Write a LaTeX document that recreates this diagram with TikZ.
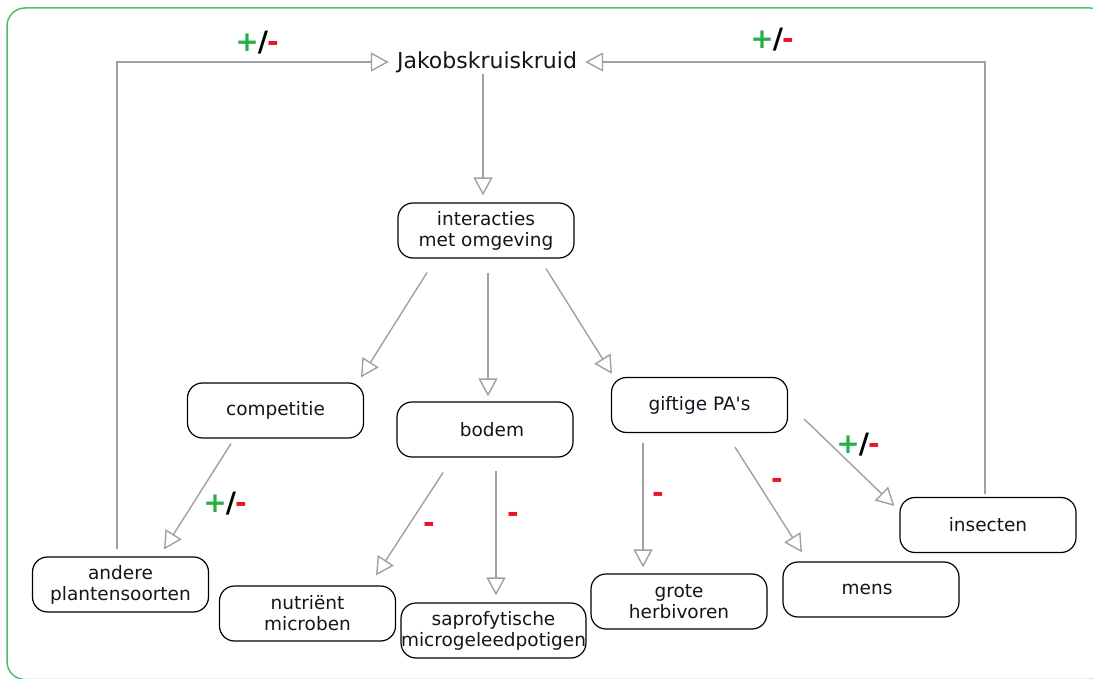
\documentclass[tikz,border=0pt]{standalone}
\usepackage{fontspec}
\setmainfont{DejaVu Sans}
\usetikzlibrary{arrows.meta,calc}

\definecolor{framegreen}{RGB}{85,190,105}
\definecolor{linkgray}{RGB}{160,160,160}
\definecolor{plusgreen}{RGB}{40,175,70}
\definecolor{minusred}{RGB}{232,20,40}
\definecolor{inkdark}{RGB}{20,20,30}

% green plus, black slash, red minus
\newcommand\signpm{{\color{plusgreen}+}\kern-1pt/\kern-1pt{\color{minusred}-}}

\begin{document}
\begin{tikzpicture}[x=1pt,y=-1pt,
  box/.style={draw=black, line width=1.2pt, rounded corners=15pt,
    minimum width=176pt, minimum height=55pt, inner sep=0pt,
    align=center, text=inkdark, font=\fontsize{18.5}{21}\selectfont},
  link/.style={draw=linkgray, line width=1.4pt,
    -{Triangle[open, length=18pt, width=19pt]}},
  sign/.style={font=\bfseries\fontsize{28}{28}\selectfont, inner sep=0pt},
  minus/.style={sign, text=minusred},
]
\useasboundingbox (0,0) rectangle (1093,679);

% outer frame
\draw[framegreen, line width=1.5pt, rounded corners=18pt] (7,8) rectangle (1108,679.5);

% title plant
\node[inner xsep=8pt, inner ysep=0pt, text=inkdark,
      font=\fontsize{22}{22}\selectfont] (jak) at (487,62) {Jakobskruiskruid};

% boxes
\node[box] (inter)  at (486,230.5)   {interacties\\met omgeving};
\node[box] (comp)   at (275.5,410.5) {competitie};
\node[box] (bodem)  at (485,429.5)   {\hspace*{14pt}bodem};
\node[box] (gift)   at (699.5,405)   {giftige PA\textquotesingle s};
\node[box] (insect) at (988,525)     {insecten};
\node[box] (andere) at (120.5,584.5) {andere\\plantensoorten};
\node[box] (nutr)   at (307.5,613.5) {nutriënt\\microben};
\node[box, minimum width=183pt] (sapro) at (493.5,630.5) {saprofytische\\microgeleedpotigen};
\node[box] (grote)  at (679,601.5)   {grote\\herbivoren};
\node[box] (mens)   at (871,589.5)   {\hspace*{-8pt}mens};

% feedback loops to the plant
\draw[link] ($(andere.north)+(-3.5,-7)$) |- (jak.west);
\draw[link] ($(insect.north)+(-3,-3)$) |- (jak.east);

% downward links
\draw[link] ($(jak.center)+(-4,12)$) -- ($(inter.north)+(-3,-7)$);
\draw[link] ($(inter.south)+(-59,14)$) -- ($(comp.north)+(85.5,-5)$);
\draw[link] ($(inter.south)+(2,14)$) -- ($(bodem.north)+(3,-5)$);
\draw[link] ($(inter.south)+(60,10)$) -- ($(gift.north)+(-87.5,-3)$);
\draw[link] ($(comp.south)+(-44.5,5)$) -- ($(andere.north)+(43.5,-7)$);
\draw[link] ($(bodem.south)+(-42,15)$) -- ($(nutr.north)+(68.5,-10)$);
\draw[link] ($(bodem.south)+(11,13)$) -- ($(sapro.north)+(2.5,-7)$);
\draw[link] ($(gift.south)+(-56.5,10)$) -- ($(grote.north)+(-36,-6)$);
\draw[link] ($(gift.south)+(35.5,14)$) -- ($(mens.north)+(-69,-9)$);
\draw[link] ($(gift.east)+(16,14)$) -- ($(insect.west)+(-5,-19)$);

% effect signs
\node[sign] (s1) at (257,43) {\signpm};
\node[sign] (s2) at (772,40) {\signpm};
\node[sign] (s3) at (225,504) {\signpm};
\node[sign] (s4) at (858,445) {\signpm};
\node[minus] (m1) at (429,527) {-};
\node[minus] (m2) at (513,517) {-};
\node[minus] (m3) at (658,497) {-};
\node[minus] (m4) at (777,483) {-};
\end{tikzpicture}
\end{document}
